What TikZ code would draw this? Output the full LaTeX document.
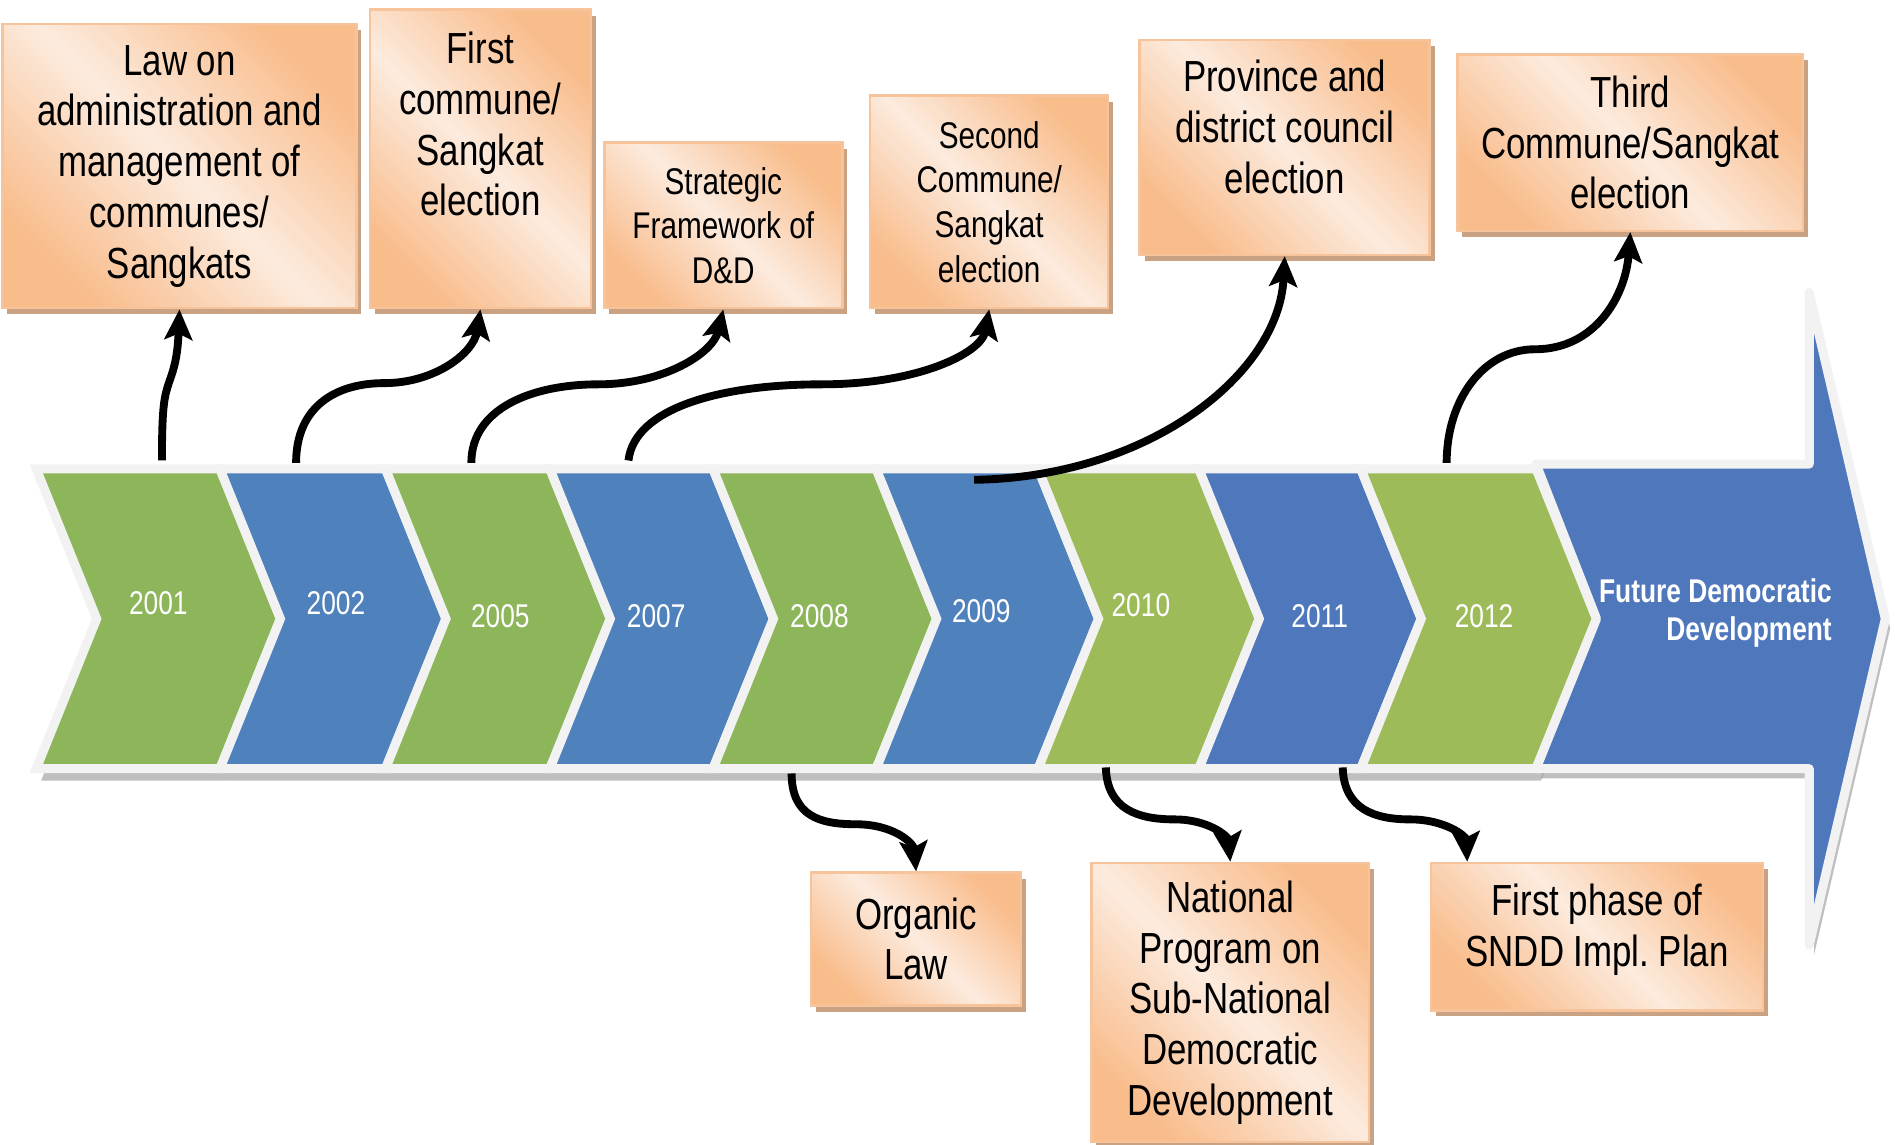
\documentclass[tikz,border=0pt]{standalone}
\usepackage{fontspec}
\setmainfont{Liberation Sans}[FakeStretch=0.8]
\usetikzlibrary{arrows.meta,shadows,calc}
\frenchspacing
\definecolor{grA}{HTML}{8DB55A}
\definecolor{grB}{HTML}{9DBB59}
\definecolor{blA}{HTML}{4F81BD}
\definecolor{blB}{HTML}{4F78BC}
\definecolor{rim}{HTML}{F2F2F2}
\definecolor{boxdark}{HTML}{F9BC8B}
\definecolor{boxlight}{HTML}{FCEBDE}
\definecolor{boxline}{HTML}{F7C39A}
\definecolor{boxshade}{HTML}{C8A283}
\newcommand\mychev[3]{%
  \fill[black!50,opacity=.5] ({#1+4},396) -- ({#1+54},520) -- ({#1+4},646) -- ({#2+4},646) -- ({#2+54},520) -- ({#2+4},396) -- cycle;
  \filldraw[fill=#3,draw=rim,line width=0.15cm,line join=miter] (#1,388) -- ({#1+50},512) -- (#1,636) -- (#2,636) -- ({#2+50},512) -- (#2,388) -- cycle;
}
\tikzset{
  evbox/.style={draw=boxline,line width=0.04cm,inner sep=0pt,align=center,
    top color=boxdark,bottom color=boxdark,middle color=boxlight,shading angle=-45,
    drop shadow={shadow xshift=0.08cm,shadow yshift=-0.1cm,fill=boxshade,opacity=1},
    font=\fontsize{20.5}{23.9}\selectfont},
  evsmall/.style={evbox,font=\fontsize{17.5}{21}\selectfont},
  yearlbl/.style={text=white,font=\fontsize{15.5}{18}\selectfont,inner sep=0pt},
  conn/.style={line width=0.13cm,-{Stealth[length=0.5cm,width=0.46cm,inset=0.1cm]}},
}
\begin{document}
\begin{tikzpicture}[x=0.02cm,y=-0.02cm]
\useasboundingbox (0,0) rectangle (1568,947);
% event boxes
\node[evbox,minimum width=5.86cm,minimum height=4.7cm] (law) at (148.5,137.5)
  {Law on\\administration and\\management of\\communes/\\Sangkats};
\node[evbox,minimum width=3.66cm,minimum height=4.94cm] (first) at (397.5,131.5)
  {First\\commune/\\Sangkat\\election\\[9pt]\mbox{}};
\node[evsmall,minimum width=3.94cm,minimum height=2.74cm] (strat) at (598.5,186.5)
  {Strategic\\Framework of\\D\&D};
\node[evsmall,minimum width=3.94cm,minimum height=3.52cm] (second) at (818.5,167)
  {Second\\Commune/\\Sangkat\\election};
\node[evbox,minimum width=4.8cm,minimum height=3.56cm] (prov) at (1063,122)
  {Province and\\district council\\election\\[-4.5pt]\mbox{}};
\node[evbox,minimum width=5.72cm,minimum height=2.92cm] (third) at (1349,118)
  {Third\\Commune/Sangkat\\election};
\node[evbox,minimum width=3.48cm,minimum height=2.2cm] (organic) at (758,777)
  {Organic\\Law};
\node[evbox,minimum width=4.6cm,minimum height=4.62cm] (national) at (1018,829.5)
  {National\\Program on\\Sub-National\\Democratic\\Development};
\node[evbox,minimum width=5.5cm,minimum height=2.44cm] (phase) at (1321.5,775)
  {First phase of\\SNDD Impl. Plan\\[-13pt]\mbox{}};
% chevron band
\mychev{30}{182}{grA}
\mychev{182}{319}{blA}
\mychev{319}{455}{grA}
\mychev{455}{590}{blA}
\mychev{590}{725}{grA}
\mychev{725}{859}{blA}
\mychev{859}{992}{grB}
\mychev{992}{1126}{blB}
\mychev{1126}{1271}{grB}
% big arrow
\fill[black!50,opacity=.5] (1275,392) -- (1501,392) -- (1501,250) -- (1564,520) -- (1501,790) -- (1501,644) -- (1275,644) -- (1325,520) -- cycle;
\filldraw[fill=blB,draw=rim,line width=0.15cm,line join=round] (1271,384) -- (1497,384) -- (1497,242) -- (1560,512) -- (1497,782) -- (1497,636) -- (1271,636) -- (1321,512) -- cycle;
% labels
\node[yearlbl] (y2001) at (131,499) {2001};
\node[yearlbl] (y2002) at (278,499) {2002};
\node[yearlbl] (y2005) at (414,510) {2005};
\node[yearlbl] (y2007) at (543,510) {2007};
\node[yearlbl] (y2008) at (678,510) {2008};
\node[yearlbl] (y2009) at (812,506) {2009};
\node[yearlbl] (y2010) at (944,501) {2010};
\node[yearlbl] (y2011) at (1092,510) {2011};
\node[yearlbl] (y2012) at (1228,510) {2012};
\node[text=white,font=\bfseries\fontsize{15.5}{18}\selectfont,align=right,anchor=east,inner sep=0pt] (future) at (1516,507)
  {Future Democratic\\Development};
% connector start points
\coordinate (s2001) at (134,381);
\coordinate (s2002) at (245,383);
\coordinate (s2005) at (390,383);
\coordinate (s2007) at (520,381);
\coordinate (s2009) at (806,397);
\coordinate (s2012) at (1197,383);
\coordinate (s2008) at (655,640);
\coordinate (s2010) at (915,635);
\coordinate (s2011) at (1111,635);
% connectors
\draw[conn] (s2001) .. controls (134,335) and (136,328) .. (140,316) .. controls (144,305) and (147,295) .. (law.south);
\draw[conn] (s2002) .. controls (245,337) and (277,317) .. (318,317) .. controls (360,317) and (392,292) .. (first.south);
\draw[conn] (s2005) .. controls (390,338) and (440,318) .. (495,318) .. controls (550,318) and (590,292) .. (strat.south);
\draw[conn] (s2007) .. controls (525,338) and (595,318) .. (680,318) .. controls (760,318) and (812,292) .. (second.south);
\draw[conn] (s2009) .. controls (950,395) and (1058,310) .. (prov.south);
\draw[conn] (s2012) .. controls (1197,330) and (1228,289) .. (1270,289) .. controls (1320,289) and (1345,245) .. (third.south);
\draw[conn] (s2008) .. controls (655,675) and (678,682) .. (708,682) .. controls (740,682) and (756,698) .. (organic.north);
\draw[conn] (s2010) .. controls (916,670) and (942,678) .. (972,678) .. controls (1000,678) and (1016,692) .. (national.north);
\draw[conn] (s2011) .. controls (1112,670) and (1138,678) .. (1167,678) .. controls (1196,678) and (1213,692) .. ($(phase.north west)+(31,0)$);
\end{tikzpicture}
\end{document}
